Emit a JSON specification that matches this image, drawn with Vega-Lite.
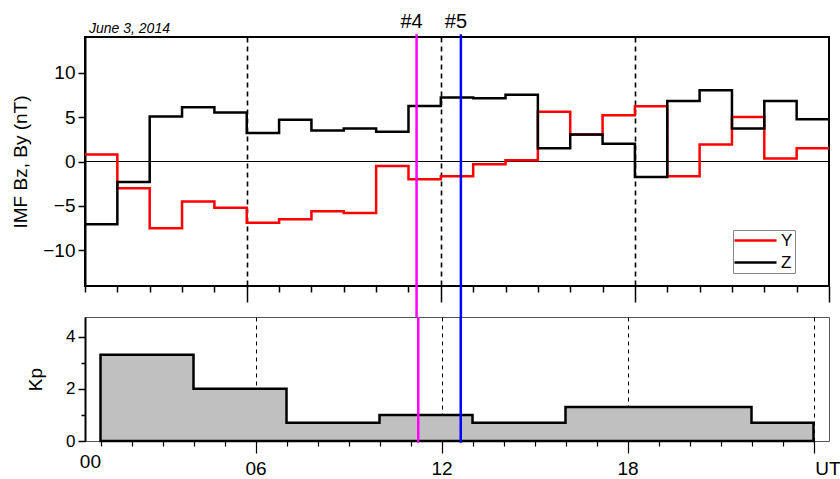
{
  "$schema": "https://vega.github.io/schema/vega-lite/v6.json",
  "autosize": {"type": "pad"},
  "padding": {"left": 10, "top": 10, "right": 0, "bottom": 0},
  "bounds": "flush",
  "spacing": 31,
  "config": {
    "font": "Liberation Sans",
    "axis": {"labelFont": "Liberation Sans", "titleFont": "Liberation Sans", "titleFontWeight": "normal", "labelColor": "#000", "titleColor": "#000", "tickColor": "#000", "domainColor": "#000", "grid": false, "labelOverlap": false, "labelFlush": false}
  },
  "datasets": {
    "imf": [
      {"h": 1, "series": "Y", "v": 0.8}, {"h": 2, "series": "Y", "v": -3.0}, {"h": 3, "series": "Y", "v": -7.5}, {"h": 4, "series": "Y", "v": -4.5},
      {"h": 5, "series": "Y", "v": -5.2}, {"h": 6, "series": "Y", "v": -6.9}, {"h": 7, "series": "Y", "v": -6.5}, {"h": 8, "series": "Y", "v": -5.6},
      {"h": 9, "series": "Y", "v": -5.8}, {"h": 10, "series": "Y", "v": -0.5}, {"h": 11, "series": "Y", "v": -2.0}, {"h": 12, "series": "Y", "v": -1.65},
      {"h": 13, "series": "Y", "v": -0.3}, {"h": 14, "series": "Y", "v": 0.15}, {"h": 15, "series": "Y", "v": 5.6}, {"h": 16, "series": "Y", "v": 3.0},
      {"h": 17, "series": "Y", "v": 5.2}, {"h": 18, "series": "Y", "v": 6.2}, {"h": 19, "series": "Y", "v": -1.65}, {"h": 20, "series": "Y", "v": 1.9},
      {"h": 21, "series": "Y", "v": 5.0}, {"h": 22, "series": "Y", "v": 0.35}, {"h": 23, "series": "Y", "v": 1.5}, {"h": 24, "series": "Y", "v": 1.5},
      {"h": 1, "series": "Z", "v": -7.05}, {"h": 2, "series": "Z", "v": -2.3}, {"h": 3, "series": "Z", "v": 5.05}, {"h": 4, "series": "Z", "v": 6.1},
      {"h": 5, "series": "Z", "v": 5.5}, {"h": 6, "series": "Z", "v": 3.2}, {"h": 7, "series": "Z", "v": 4.7}, {"h": 8, "series": "Z", "v": 3.5},
      {"h": 9, "series": "Z", "v": 3.7}, {"h": 10, "series": "Z", "v": 3.35}, {"h": 11, "series": "Z", "v": 6.25}, {"h": 12, "series": "Z", "v": 7.2},
      {"h": 13, "series": "Z", "v": 7.1}, {"h": 14, "series": "Z", "v": 7.5}, {"h": 15, "series": "Z", "v": 1.5}, {"h": 16, "series": "Z", "v": 3.05},
      {"h": 17, "series": "Z", "v": 2.0}, {"h": 18, "series": "Z", "v": -1.75}, {"h": 19, "series": "Z", "v": 6.8}, {"h": 20, "series": "Z", "v": 8.0},
      {"h": 21, "series": "Z", "v": 3.7}, {"h": 22, "series": "Z", "v": 6.8}, {"h": 23, "series": "Z", "v": 4.75}, {"h": 24, "series": "Z", "v": 4.75}
    ],
    "kp": [
      {"h": 1, "kp": 3.3}, {"h": 4, "kp": 2.0}, {"h": 7, "kp": 0.7}, {"h": 10, "kp": 1.0},
      {"h": 13, "kp": 0.7}, {"h": 16, "kp": 1.3}, {"h": 19, "kp": 1.3}, {"h": 22, "kp": 0.7}, {"h": 24, "kp": 0.7}
    ],
    "events": [
      {"t": 11.25, "label": "#4", "col": "m"},
      {"t": 12.62, "label": "#5", "col": "b"}
    ]
  },
  "vconcat": [
    {
      "width": 744,
      "height": 249,
      "view": {"stroke": "#000", "strokeWidth": 2},
      "title": {"text": "June 3, 2014", "anchor": "start", "frame": "group", "fontStyle": "italic", "fontWeight": "normal", "fontSize": 14, "font": "Liberation Sans", "offset": -24, "dx": 4, "color": "#000"},
      "layer": [
        {
          "data": {"name": "imf"},
          "mark": {"type": "rule", "color": "#000", "strokeWidth": 1},
          "encoding": {"y": {"datum": 0, "type": "quantitative", "scale": {"domain": [-14, 14], "nice": false}}}
        },
        {
          "data": {"name": "imf"},
          "mark": {"type": "line", "interpolate": "step-after", "strokeWidth": 2.5},
          "encoding": {
            "x": {"field": "h", "type": "quantitative", "scale": {"domain": [1, 24], "nice": false, "zero": false},
              "axis": {"values": [1,2,3,4,5,6,7,8,9,10,11,12,13,14,15,16,17,18,19,20,21,22,23,24], "tickCount": 200, "labels": false, "title": null, "domain": false, "tickWidth": 1.5,
                "tickSize": {"condition": {"test": "datum.value == 6 || datum.value == 12 || datum.value == 18 || datum.value == 24", "value": 16}, "value": 6},
                "grid": true, "gridWidth": 1.6, "gridDash": [5, 4],
                "gridColor": {"condition": {"test": "datum.value == 6 || datum.value == 12 || datum.value == 18", "value": "#000"}, "value": "transparent"}}},
            "y": {"field": "v", "type": "quantitative", "scale": {"domain": [-14, 14], "nice": false},
              "axis": {"values": [-10, -5, 0, 5, 10], "tickCount": 50, "format": "d", "title": "IMF Bz, By (nT)", "titleFontSize": 19, "labelFontSize": 19, "tickSize": 7, "tickWidth": 1.5, "domainWidth": 2, "labelPadding": 3, "titlePadding": 12}},
            "color": {"field": "series", "type": "nominal", "scale": {"domain": ["Y", "Z"], "range": ["#ff0000", "#000000"]},
              "legend": {"title": null, "orient": "none", "legendX": 648, "legendY": 193, "symbolType": "M-3,0H3", "symbolSize": 196, "symbolStrokeWidth": 2.5,
                "symbolOffset": 12, "labelOffset": 17, "labelFontSize": 17, "labelFont": "Liberation Sans", "labelColor": "#000", "rowPadding": 4, "padding": 2, "strokeColor": "#888", "fillColor": "#fff"}}
          }
        },
        {
          "data": {"name": "events"},
          "mark": {"type": "rule", "strokeWidth": 2.5},
          "encoding": {
            "x": {"field": "t", "type": "quantitative"},
            "y": {"datum": 14.3, "type": "quantitative"},
            "y2": {"datum": -17.5},
            "stroke": {"field": "col", "type": "nominal", "scale": {"domain": ["m", "b"], "range": ["#ff00ff", "#0000ff"]}, "legend": null}
          }
        },
        {
          "data": {"name": "events"},
          "mark": {"type": "text", "fontSize": 20, "font": "Liberation Sans", "dx": -5, "baseline": "alphabetic", "color": "#000"},
          "encoding": {
            "x": {"field": "t", "type": "quantitative"},
            "y": {"datum": 15.05, "type": "quantitative"},
            "text": {"field": "label"}
          }
        }
      ],
      "resolve": {"scale": {"stroke": "independent"}}
    },
    {
      "width": 744,
      "height": 124,
      "view": {"stroke": "#555", "strokeWidth": 1},
      "layer": [
        {
          "data": {"name": "kp"},
          "mark": {"type": "area", "interpolate": "step-after", "fill": "#c0c0c0", "stroke": "#000", "strokeWidth": 2.5},
          "encoding": {
            "x": {"field": "h", "type": "quantitative", "scale": {"domain": [0.5, 24.5], "nice": false, "zero": false},
              "axis": {"values": [1,2,3,4,5,6,7,8,9,10,11,12,13,14,15,16,17,18,19,20,21,22,23,24], "tickCount": 200, "title": null, "domain": false, "tickWidth": 1.2,
                "labelExpr": "datum.value == 1 ? '00' : datum.value == 6 ? '06' : datum.value == 12 ? '12' : datum.value == 18 ? '18' : datum.value == 24 ? 'UT' : ''",
                "labelAlign": {"condition": {"test": "datum.value == 1", "value": "right"}, "value": "center"},
                "labelOffset": {"condition": {"test": "datum.value == 24", "value": 14}, "value": 0},
                "labelFontSize": 19, "labelPadding": 6, "labelFlush": false, "labelOverlap": false, "labelBound": false,
                "tickSize": {"condition": {"test": "datum.value == 6 || datum.value == 12 || datum.value == 18 || datum.value == 24", "value": 12}, "value": 5},
                "grid": true, "gridWidth": 1, "gridDash": [4, 4],
                "gridColor": {"condition": {"test": "datum.value == 6 || datum.value == 12 || datum.value == 18 || datum.value == 24", "value": "#000"}, "value": "transparent"}}},
            "y": {"field": "kp", "type": "quantitative", "scale": {"domain": [0, 4.75], "nice": false},
              "axis": {"values": [0, 1, 2, 3, 4], "tickCount": 50, "format": "d", "title": "Kp", "titleFontSize": 19, "labelFontSize": 17, "tickWidth": 1.5, "domainWidth": 2, "labelPadding": 3, "titlePadding": 20,
                "labelExpr": "datum.value == 0 || datum.value == 2 || datum.value == 4 ? datum.label : ''",
                "tickSize": {"condition": {"test": "datum.value == 0 || datum.value == 2 || datum.value == 4", "value": 7}, "value": 4}}}
          }
        },
        {
          "data": {"name": "events"},
          "mark": {"type": "rule", "strokeWidth": 2.5},
          "encoding": {
            "x": {"field": "t", "type": "quantitative"},
            "y": {"datum": 4.75, "type": "quantitative"},
            "y2": {"datum": -0.07},
            "stroke": {"field": "col", "type": "nominal", "scale": {"domain": ["m", "b"], "range": ["#ff00ff", "#0000ff"]}, "legend": null}
          }
        }
      ]
    }
  ],
  "resolve": {"scale": {"x": "independent", "y": "independent", "stroke": "independent"}}
}
